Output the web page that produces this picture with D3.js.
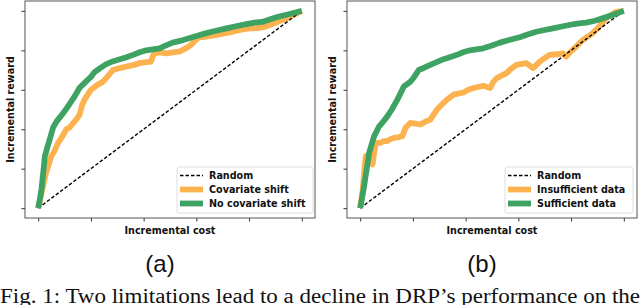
<!DOCTYPE html>
<html>
<head>
<meta charset="utf-8">
<script src="https://cdn.jsdelivr.net/npm/d3@7"></script>
<style>
  body { margin: 0; background: #fff; }
  svg { display: block; }
</style>
</head>
<body>
<div id="chart"></div>
<script>
const width = 640;
const height = 305;

const ticks = [0, 0.2, 0.4, 0.6, 0.8, 1];
const randomLine = [[0, 0], [1, 1]];

// panel (a)
const covariateShift = [
  [0, 0], [0.01, 0.06], [0.019, 0.114], [0.03, 0.18], [0.038, 0.213], [0.05, 0.264],
  [0.062, 0.29], [0.075, 0.33], [0.09, 0.36], [0.107, 0.40], [0.12, 0.41],
  [0.132, 0.43], [0.145, 0.45], [0.157, 0.474], [0.166, 0.52], [0.176, 0.55],
  [0.19, 0.58], [0.20, 0.60], [0.225, 0.625], [0.245, 0.64], [0.265, 0.67],
  [0.283, 0.70], [0.31, 0.71], [0.334, 0.717], [0.36, 0.725], [0.384, 0.735],
  [0.41, 0.74], [0.428, 0.743], [0.435, 0.77], [0.44, 0.785], [0.465, 0.79],
  [0.485, 0.785], [0.51, 0.79], [0.535, 0.793], [0.56, 0.81], [0.579, 0.827],
  [0.6, 0.855], [0.61, 0.866], [0.64, 0.87], [0.673, 0.877], [0.70, 0.885],
  [0.736, 0.894], [0.77, 0.905], [0.80, 0.911], [0.83, 0.912], [0.862, 0.92],
  [0.89, 0.935], [0.925, 0.953], [0.96, 0.975], [1, 1]
];
const noCovariateShift = [
  [0, 0], [0.007, 0.05], [0.013, 0.10], [0.02, 0.19], [0.025, 0.26], [0.035, 0.31],
  [0.044, 0.35], [0.057, 0.41], [0.07, 0.44], [0.088, 0.47], [0.105, 0.50],
  [0.12, 0.53], [0.14, 0.57], [0.157, 0.61], [0.18, 0.64], [0.2, 0.665],
  [0.214, 0.69], [0.235, 0.71], [0.258, 0.73], [0.285, 0.745], [0.31, 0.755],
  [0.335, 0.765], [0.36, 0.777], [0.385, 0.79], [0.41, 0.80], [0.435, 0.805],
  [0.46, 0.81], [0.485, 0.825], [0.51, 0.839], [0.55, 0.852], [0.585, 0.866],
  [0.61, 0.876], [0.635, 0.886], [0.67, 0.898], [0.71, 0.91], [0.75, 0.922],
  [0.786, 0.932], [0.82, 0.94], [0.85, 0.944], [0.88, 0.957], [0.91, 0.97],
  [0.95, 0.983], [1, 1]
];

// panel (b)
const insufficientData = [
  [0, 0], [0.009, 0.087], [0.015, 0.18], [0.021, 0.264], [0.034, 0.272],
  [0.042, 0.23], [0.047, 0.222], [0.053, 0.28], [0.059, 0.331], [0.078, 0.331],
  [0.09, 0.34], [0.103, 0.34], [0.115, 0.35], [0.128, 0.356], [0.145, 0.36],
  [0.16, 0.365], [0.172, 0.407], [0.19, 0.432], [0.21, 0.428], [0.229, 0.424],
  [0.25, 0.44], [0.266, 0.449], [0.291, 0.499], [0.31, 0.525], [0.329, 0.55],
  [0.354, 0.575], [0.392, 0.586], [0.41, 0.6], [0.43, 0.609], [0.467, 0.62],
  [0.493, 0.609], [0.505, 0.64], [0.518, 0.659], [0.555, 0.684], [0.575, 0.71],
  [0.593, 0.726], [0.63, 0.735], [0.656, 0.71], [0.681, 0.743], [0.718, 0.777],
  [0.745, 0.78], [0.769, 0.785], [0.781, 0.768], [0.8, 0.795], [0.819, 0.818],
  [0.844, 0.852], [0.881, 0.886], [0.906, 0.919], [0.932, 0.962], [0.97, 0.995],
  [1, 1]
];
const sufficientData = [
  [0, 0], [0.007, 0.05], [0.015, 0.113], [0.025, 0.2], [0.034, 0.28], [0.045, 0.33],
  [0.053, 0.365], [0.072, 0.415], [0.088, 0.44], [0.103, 0.465], [0.12, 0.5],
  [0.141, 0.55], [0.166, 0.617], [0.19, 0.64], [0.205, 0.665], [0.222, 0.70],
  [0.245, 0.713], [0.266, 0.726], [0.29, 0.74], [0.316, 0.755], [0.34, 0.765],
  [0.367, 0.777], [0.39, 0.79], [0.417, 0.80], [0.44, 0.805], [0.467, 0.81],
  [0.5, 0.825], [0.53, 0.839], [0.565, 0.852], [0.605, 0.866], [0.635, 0.88],
  [0.668, 0.894], [0.7, 0.903], [0.731, 0.911], [0.77, 0.922], [0.806, 0.932],
  [0.83, 0.936], [0.857, 0.94], [0.89, 0.95], [0.919, 0.962], [0.96, 0.98], [1, 1]
];

const orange = "#fbb24f";
const green = "#3ea263";

const panels = [
  {x0: 25, x1: 315, tag: "(a)", series: [covariateShift, noCovariateShift],
   names: ["Random", "Covariate shift", "No covariate shift"], legendX: 177, legendW: 136},
  {x0: 347, x1: 637, tag: "(b)", series: [insufficientData, sufficientData],
   names: ["Random", "Insufficient data", "Sufficient data"], legendX: 505, legendW: 128}
];

const yTop = 1, yBottom = 218;
const font = "DejaVu Sans, sans-serif";
const fontSize = 9.6;

const svg = d3.select("#chart")
  .append("svg")
  .attr("width", width)
  .attr("height", height)
  .attr("viewBox", [0, 0, width, height]);

panels.forEach(p => {
  const x = d3.scaleLinear()
    .domain([-0.05, 1.05])
    .range([p.x0, p.x1]);
  const y = d3.scaleLinear()
    .domain([-0.05, 1.05])
    .range([yBottom, yTop]);

  const g = svg.append("g");

  const line = d3.line()
    .x(d => x(d[0]))
    .y(d => y(d[1]));

  g.append("path")
    .datum(p.series[0])
    .attr("fill", "none")
    .attr("stroke", orange)
    .attr("stroke-width", 5.8)
    .attr("stroke-linejoin", "round")
    .attr("d", line);

  g.append("path")
    .datum(randomLine)
    .attr("fill", "none")
    .attr("stroke", "#000")
    .attr("stroke-width", 1.4)
    .attr("stroke-dasharray", "3.5,2")
    .attr("d", line);

  g.append("path")
    .datum(p.series[1])
    .attr("fill", "none")
    .attr("stroke", green)
    .attr("stroke-width", 5.8)
    .attr("stroke-linejoin", "round")
    .attr("d", line);

  // axes, ticks without labels
  g.append("g")
    .attr("transform", `translate(0,${yBottom})`)
    .call(d3.axisBottom(x).tickValues(ticks).tickFormat("").tickSize(3.5).tickSizeOuter(0))
    .call(a => a.select(".domain").remove())
    .call(a => a.selectAll("line").attr("stroke", "#333"));

  g.append("g")
    .attr("transform", `translate(${p.x0},0)`)
    .call(d3.axisLeft(y).tickValues(ticks).tickFormat("").tickSize(3.5).tickSizeOuter(0))
    .call(a => a.select(".domain").remove())
    .call(a => a.selectAll("line").attr("stroke", "#333"));

  g.append("rect")
    .attr("x", p.x0)
    .attr("y", yTop)
    .attr("width", p.x1 - p.x0)
    .attr("height", yBottom - yTop)
    .attr("fill", "none")
    .attr("stroke", "#555")
    .attr("stroke-width", 1);

  // legend
  const lg = g.append("g");
  lg.append("rect")
    .attr("x", p.legendX)
    .attr("y", 167)
    .attr("width", p.legendW)
    .attr("height", 46)
    .attr("rx", 2)
    .attr("fill", "#fff")
    .attr("fill-opacity", 0.8)
    .attr("stroke", "#d6d6d6")
    .attr("stroke-width", 0.8);

  const hx = p.legendX + 3;
  p.names.forEach((name, i) => {
    const ly = 175.5 + i * 14;
    const h = lg.append("line")
      .attr("x1", hx).attr("x2", hx + 23)
      .attr("y1", ly).attr("y2", ly);
    if (i === 0) {
      h.attr("stroke", "#000").attr("stroke-width", 1.4).attr("stroke-dasharray", "3.5,2");
    } else {
      h.attr("stroke", i === 1 ? orange : green).attr("stroke-width", 5.8);
    }
    lg.append("text")
      .attr("x", hx + 29)
      .attr("y", ly)
      .attr("dy", "0.35em")
      .attr("font-family", font)
      .attr("font-weight", "bold")
      .attr("font-size", fontSize)
      .attr("fill", "#111")
      .text(name);
  });

  // axis titles
  const cx = (p.x0 + p.x1) / 2;
  g.append("text")
    .attr("x", cx)
    .attr("y", 234)
    .attr("text-anchor", "middle")
    .attr("font-family", font)
    .attr("font-weight", "bold")
    .attr("font-size", fontSize)
    .attr("fill", "#111")
    .text("Incremental cost");

  g.append("text")
    .attr("transform", `translate(${p.x0 - 11},${(yTop + yBottom) / 2}) rotate(-90)`)
    .attr("text-anchor", "middle")
    .attr("font-family", font)
    .attr("font-weight", "bold")
    .attr("font-size", fontSize)
    .attr("fill", "#111")
    .text("Incremental reward");

  g.append("text")
    .attr("x", cx - 10)
    .attr("y", 272)
    .attr("text-anchor", "middle")
    .attr("font-family", "Liberation Sans, Arial, sans-serif")
    .attr("font-size", 24)
    .attr("fill", "#111")
    .text(p.tag);
});

svg.append("text")
  .attr("x", 0)
  .attr("y", 303)
  .attr("font-family", "Liberation Serif, Times New Roman, serif")
  .attr("font-size", 20)
  .attr("fill", "#111")
  .attr("textLength", 640)
  .attr("lengthAdjust", "spacingAndGlyphs")
  .text("Fig. 1: Two limitations lead to a decline in DRP’s performance on the");
</script>
</body>
</html>
